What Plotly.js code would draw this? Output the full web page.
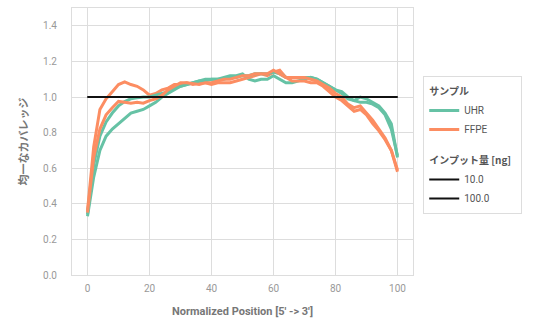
<!DOCTYPE html>
<html><head><meta charset="utf-8">
<script src="https://cdn.plot.ly/plotly-3.0.1.min.js"></script>
<style>html,body{margin:0;padding:0;background:#fff}#chart{width:535px;height:320px}</style>
</head><body><div id="chart"></div>
<script>
const positions = [0,2,4,6,8,10,12,14,16,18,20,22,24,26,28,30,32,34,36,38,40,42,44,46,48,50,52,54,56,58,60,62,64,66,68,70,72,74,76,78,80,82,84,86,88,90,92,94,96,98,100];
const uhr10 = [0.33,0.55,0.70,0.78,0.82,0.85,0.88,0.91,0.92,0.93,0.95,0.97,1.00,1.02,1.04,1.06,1.07,1.08,1.09,1.10,1.10,1.10,1.11,1.12,1.12,1.13,1.10,1.09,1.10,1.10,1.12,1.10,1.08,1.08,1.09,1.10,1.11,1.10,1.08,1.06,1.04,1.03,1.00,0.98,1.00,0.99,0.97,0.95,0.91,0.85,0.66];
const uhr100 = [0.34,0.62,0.78,0.86,0.91,0.95,0.975,0.99,0.995,1.00,1.00,1.01,1.02,1.03,1.05,1.06,1.07,1.08,1.09,1.09,1.10,1.10,1.10,1.11,1.11,1.12,1.12,1.13,1.13,1.13,1.14,1.13,1.11,1.11,1.11,1.11,1.11,1.10,1.08,1.06,1.04,1.02,0.99,0.98,0.97,0.97,0.96,0.94,0.90,0.82,0.67];
const ffpe10 = [0.36,0.72,0.93,0.99,1.03,1.07,1.085,1.07,1.06,1.04,1.01,1.02,1.04,1.05,1.07,1.07,1.08,1.07,1.08,1.08,1.07,1.08,1.08,1.08,1.09,1.10,1.11,1.12,1.13,1.12,1.14,1.15,1.11,1.09,1.09,1.09,1.08,1.08,1.06,1.03,1.00,0.98,0.95,0.92,0.93,0.90,0.85,0.81,0.76,0.70,0.58];
const ffpe100 = [0.35,0.66,0.82,0.90,0.94,0.975,0.97,0.965,0.97,0.965,0.98,0.99,1.01,1.04,1.06,1.08,1.08,1.075,1.07,1.08,1.08,1.09,1.10,1.10,1.11,1.12,1.12,1.13,1.13,1.13,1.15,1.13,1.11,1.11,1.11,1.11,1.10,1.09,1.07,1.05,1.02,1.00,0.96,0.94,0.95,0.91,0.87,0.82,0.77,0.70,0.59];
const refX = [0,100];
const refY = [1,1];
const sampleNames = ['UHR','FFPE'];
const inputNames = ['10.0','100.0'];
const yTicks = [0,0.2,0.4,0.6,0.8,1.0,1.2,1.4];
const xTicks = [0,20,40,60,80,100];

const teal = '#66c2a5', orange = '#fc8d62';
const grpTitleFont = {size:10, color:'#555', family:'"Noto Sans CJK JP", Roboto, sans-serif', weight:'bold'};
const traces = [
  {x:positions, y:uhr10, mode:'lines', line:{color:teal,width:3}, name:sampleNames[0], legendgroup:'s', legendgrouptitle:{text:'サンプル', font:grpTitleFont}, showlegend:true},
  {x:positions, y:ffpe10, mode:'lines', line:{color:orange,width:3}, name:sampleNames[1], legendgroup:'s', showlegend:true},
  {x:positions, y:uhr100, mode:'lines', line:{color:teal,width:3}, name:sampleNames[0], legendgroup:'s', showlegend:false},
  {x:positions, y:ffpe100, mode:'lines', line:{color:orange,width:3}, name:sampleNames[1], legendgroup:'s', showlegend:false},
  {x:refX, y:refY, mode:'lines', line:{color:'#111',width:2}, name:inputNames[0], legendgroup:'i', legendgrouptitle:{text:'インプット量 [ng]', font:grpTitleFont}},
  {x:refX, y:refY, mode:'lines', line:{color:'#111',width:2}, name:inputNames[1], legendgroup:'i'}
];
const layout = {
  width:535, height:320,
  margin:{l:72, r:122, t:8, b:45},
  paper_bgcolor:'#fff', plot_bgcolor:'#fff',
  font:{family:'Roboto, "Noto Sans CJK JP", sans-serif', color:'#888', size:10},
  showlegend:true,
  legend:{x:1.03, xanchor:'left', y:0.745, yanchor:'top', bgcolor:'#fff', bordercolor:'#ddd', borderwidth:1,
    font:{size:10, color:'#555', family:'Roboto, sans-serif'}, tracegroupgap:12, itemwidth:30},
  xaxis:{range:[-5,105], tickvals:xTicks, showgrid:true, gridcolor:'#ddd', gridwidth:1, zeroline:false,
    showline:true, mirror:true, linecolor:'#ddd', ticks:'outside', ticklen:4, tickcolor:'rgba(0,0,0,0)',
    tickfont:{size:10, color:'#999'},
    title:{text:"Normalized Position [5' -> 3']", font:{size:11, color:'#777', weight:'bold'}, standoff:14}},
  yaxis:{range:[0,1.5], tickvals:yTicks, tickformat:'.1f', showgrid:true, gridcolor:'#ddd', gridwidth:1, zeroline:false,
    showline:true, mirror:true, linecolor:'#ddd', ticks:'outside', ticklen:12, tickcolor:'rgba(0,0,0,0)',
    tickfont:{size:10, color:'#999'},
    title:{text:'均一なカバレッジ', font:{size:11, color:'#777', weight:'bold', family:'"Noto Sans CJK JP", sans-serif'}, standoff:12}}
};
Plotly.newPlot('chart', traces, layout, {displayModeBar:false});
</script></body></html>
